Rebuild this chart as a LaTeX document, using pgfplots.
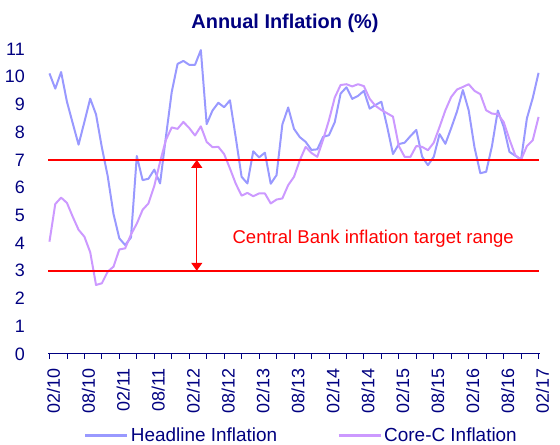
\documentclass[border=0pt]{standalone}
\usepackage{pgfplots}
\pgfplotsset{compat=1.18}
\usepackage{fontspec}
\setmainfont{Liberation Sans}
\usetikzlibrary{arrows.meta}
\definecolor{navy}{HTML}{000080}
\definecolor{headc}{HTML}{9999FF}
\definecolor{corec}{HTML}{CC99FF}
\pgfplotstableread{
i v
0 10.12
1 9.57
2 10.17
3 9.10
4 8.32
5 7.55
6 8.37
7 9.21
8 8.64
9 7.45
10 6.42
11 5.05
12 4.17
13 3.93
14 4.20
15 7.14
16 6.27
17 6.32
18 6.65
19 6.15
20 7.83
21 9.45
22 10.46
23 10.57
24 10.43
25 10.43
26 10.96
27 8.29
28 8.78
29 9.06
30 8.90
31 9.15
32 7.80
33 6.39
34 6.15
35 7.31
36 7.09
37 7.26
38 6.14
39 6.45
40 8.28
41 8.89
42 8.12
43 7.82
44 7.65
45 7.36
46 7.38
47 7.83
48 7.89
49 8.36
50 9.39
51 9.62
52 9.20
53 9.31
54 9.49
55 8.85
56 8.98
57 9.10
58 8.20
59 7.21
60 7.57
61 7.62
62 7.86
63 8.08
64 7.12
65 6.81
66 7.11
67 7.93
68 7.58
69 8.15
70 8.75
71 9.52
72 8.79
73 7.45
74 6.52
75 6.57
76 7.50
77 8.78
78 8.20
79 7.29
80 7.15
81 7.01
82 8.50
83 9.23
84 10.14
}\headline
\pgfplotstableread{
i v
0 4.05
1 5.41
2 5.64
3 5.45
4 4.95
5 4.48
6 4.23
7 3.67
8 2.49
9 2.55
10 2.97
11 3.15
12 3.77
13 3.81
14 4.31
15 4.70
16 5.20
17 5.43
18 6.06
19 6.93
20 7.72
21 8.17
22 8.12
23 8.37
24 8.15
25 7.88
26 8.21
27 7.65
28 7.46
29 7.47
30 7.21
31 6.69
32 6.14
33 5.71
34 5.81
35 5.69
36 5.79
37 5.79
38 5.43
39 5.57
40 5.61
41 6.09
42 6.39
43 6.99
44 7.47
45 7.25
46 7.11
47 7.73
48 8.43
49 9.25
50 9.70
51 9.73
52 9.65
53 9.73
54 9.66
55 9.20
56 8.95
57 8.80
58 8.68
59 8.56
60 7.50
61 7.11
62 7.11
63 7.50
64 7.47
65 7.35
66 7.62
67 8.19
68 8.79
69 9.27
70 9.54
71 9.63
72 9.73
73 9.49
74 9.37
75 8.79
76 8.67
77 8.65
78 8.37
79 7.74
80 7.17
81 7.01
82 7.50
83 7.71
84 8.55
}\core
\begin{document}
\begin{tikzpicture}[x=1bp,y=1bp]
\useasboundingbox (0,0) rectangle (560,445);
\begin{axis}[
  at={(48bp,91bp)}, anchor=south west,
  width=492bp, height=305bp, scale only axis,
  xmin=-0.25, xmax=84.25, ymin=0, ymax=11,
  axis x line*=bottom, axis y line*=left,
  y axis line style={draw=none},
  x axis line style={draw=navy, line width=1bp},
  /pgf/number format/assume math mode=true,
  ytick={0,1,...,11}, ytick style={draw=none},
  xtick={0,6,...,84}, minor xtick={3,9,...,81},
  xticklabels={02/10,08/10,02/11,08/11,02/12,08/12,02/13,08/13,02/14,08/14,02/15,08/15,02/16,08/16,02/17},
  tick align=outside,
  major tick length=5bp, minor tick length=5bp,
  xtick style={draw=navy, line width=0.8bp},
  minor x tick style={draw=navy, line width=0.8bp},
  xticklabel style={rotate=90, anchor=east, font=\fontsize{18}{18}\selectfont, text=navy, inner sep=0pt, yshift=-4bp, xshift=-9bp},
  yticklabel style={anchor=east, font=\fontsize{18}{18}\selectfont, text=navy, inner sep=0pt, xshift=-18bp},
  clip=false,
  legend style={at={(0.515,-0.268)}, anchor=center, draw=none, fill=none,
    legend columns=2, font=\fontsize{19}{19}\selectfont, text=navy,
    nodes={inner sep=2bp},
    /tikz/every even column/.append style={column sep=58bp}},
  legend image code/.code={\draw[#1, line width=3bp] (0bp,0bp) -- (42bp,0bp);},
]
\addplot[headc, line width=2bp, line join=round] table[x=i,y=v] {\headline};
\addlegendentry{Headline Inflation}
\addplot[corec, line width=2bp, line join=round] table[x=i,y=v] {\core};
\addlegendentry{Core-C Inflation}
\addplot[red, line width=2.2bp, forget plot] coordinates {(-0.25,7) (84.1,7)};
\addplot[red, line width=2.2bp, forget plot] coordinates {(-0.25,3) (84.1,3)};
\draw[red, line width=1.2bp, {Triangle[length=8bp,width=11bp]}-{Triangle[length=8bp,width=11bp]}] (axis cs:25.3,7) -- (axis cs:25.3,3);
\node[red, font=\fontsize{18.6}{19}\selectfont] at (axis cs:55.6,4.15) {Central Bank inflation target range};
\end{axis}
\node[text=navy, anchor=base, font=\bfseries\fontsize{20}{20}\selectfont] at (285,416.7) {Annual Inflation (\%)};
\end{tikzpicture}
\end{document}
